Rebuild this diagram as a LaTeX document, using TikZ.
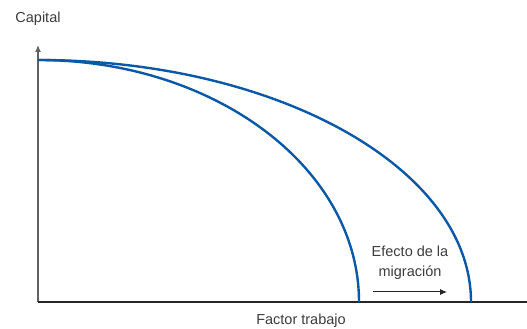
\documentclass[tikz,border=0pt]{standalone}
\usepackage{fontspec}
\setmainfont{Liberation Sans}
\usetikzlibrary{arrows.meta}
\definecolor{curveblue}{HTML}{0A58A6}
\definecolor{textgray}{HTML}{3C3C3C}

\begin{document}
\begin{tikzpicture}[>={Latex[length=7pt,width=6pt]}, x=1pt, y=1pt,
    axis/.style={line width=1.2pt},
    ppf/.style={draw=curveblue, line width=2.4pt},
    lbl/.style={text=textgray, font=\fontsize{14.5}{20}\selectfont, inner sep=0pt, align=center}]
  \useasboundingbox (0,0) rectangle (527,329);

  \coordinate (origin) at (38,27);
  \coordinate (ytop) at (38,284);
  \coordinate (xend) at (527,27);
  \coordinate (kmax) at (38,269);

  % axes
  \path[draw=black!62,axis,->] (origin) -- (ytop);
  \path[draw=black!85,axis] (origin) -- (xend);

  % frontiers
  \path[ppf] (kmax) arc[start angle=90, end angle=0, x radius=321, y radius=242];
  \path[ppf] (kmax) arc[start angle=90, end angle=0, x radius=433, y radius=242];

  % labels
  \node[lbl] (capital) at (38,310) {Capital};
  \node[lbl] (trabajo) at (301,8) {Factor trabajo};
  \node[lbl] (efecto) at (410,66) {Efecto de la\\migración};

  \coordinate (shiftA) at (373,37);
  \coordinate (shiftB) at (447,37);
  \path[draw=black!85,line width=1pt,->] (shiftA) -- (shiftB);
\end{tikzpicture}
\end{document}
